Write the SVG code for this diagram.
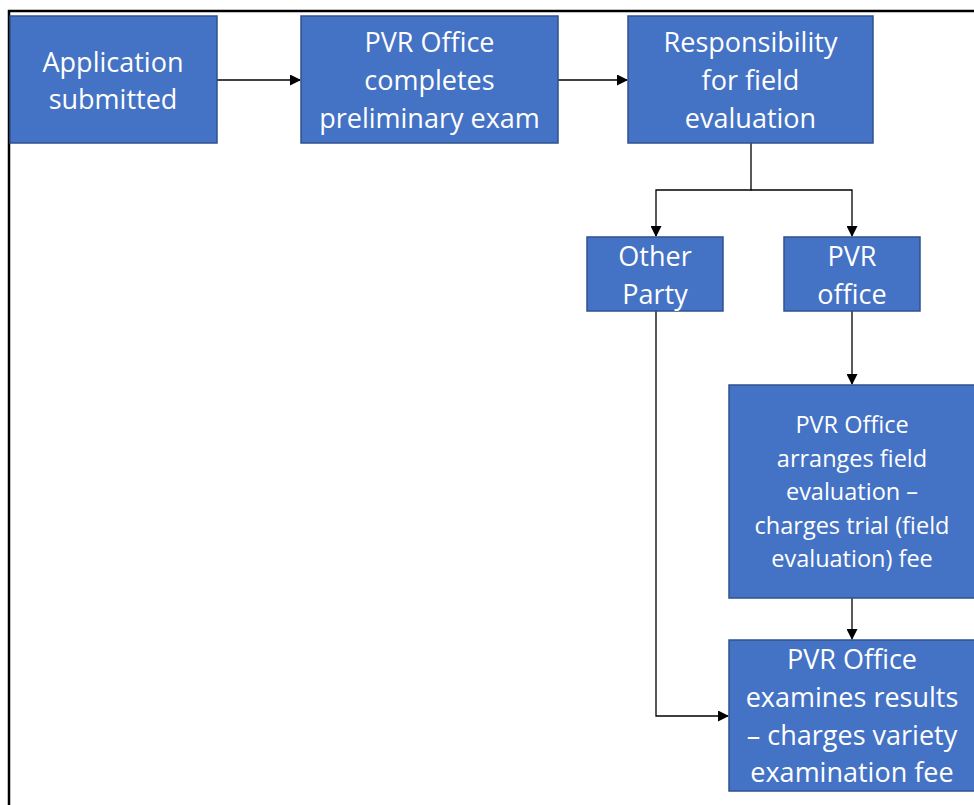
<svg xmlns="http://www.w3.org/2000/svg" width="974" height="805" viewBox="0 0 974 805">
<style>
.box{fill:#4472C4;stroke:#2F528F;stroke-width:1.5}
.t{font-family:"Open Sans","Liberation Sans",Arial,sans-serif;fill:#fff;text-anchor:middle;font-size:27px}
.s{font-size:23.5px}
.c{fill:none;stroke:#000;stroke-width:1.3}
</style>
<defs>
<marker id="ah" markerWidth="11" markerHeight="11" refX="10" refY="5.5" orient="auto" markerUnits="userSpaceOnUse">
<path d="M0,0 L11,5.5 L0,11 Z" fill="#000"/>
</marker>
</defs>
<rect width="974" height="805" fill="#fff"/>
<path d="M9,805 V11 H974" fill="none" stroke="#000" stroke-width="2.5"/>
<g id="connectors">
<path class="c" d="M217,80 H300" marker-end="url(#ah)"/>
<path class="c" d="M558,80 H627" marker-end="url(#ah)"/>
<path class="c" d="M751,143 V190 H656 V236" marker-end="url(#ah)"/>
<path class="c" d="M751,190 H852 V236" marker-end="url(#ah)"/>
<path class="c" d="M852,311 V384" marker-end="url(#ah)"/>
<path class="c" d="M852,598 V639" marker-end="url(#ah)"/>
<path class="c" d="M656,311 V716 H728" marker-end="url(#ah)"/>
</g>
<g id="n1"><rect class="box" x="10" y="16" width="207" height="127"/>
<text class="t" x="113" y="72">Application</text><text class="t" x="113" y="109">submitted</text></g>
<g id="n2"><rect class="box" x="301" y="16" width="257" height="127"/>
<text class="t" x="429.5" y="52">PVR Office</text><text class="t" x="429.5" y="90">completes</text><text class="t" x="429.5" y="128">preliminary exam</text></g>
<g id="n3"><rect class="box" x="628" y="16" width="245" height="127"/>
<text class="t" x="750.5" y="52">Responsibility</text><text class="t" x="750.5" y="90">for field</text><text class="t" x="750.5" y="128">evaluation</text></g>
<g id="n4"><rect class="box" x="587" y="237" width="136" height="74"/>
<text class="t" x="655" y="266">Other</text><text class="t" x="655" y="304">Party</text></g>
<g id="n5"><rect class="box" x="784" y="237" width="136" height="74"/>
<text class="t" x="852" y="266">PVR</text><text class="t" x="852" y="304">office</text></g>
<g id="n6"><rect class="box" x="729" y="385" width="247" height="213"/>
<text class="t s" x="852" y="433">PVR Office</text><text class="t s" x="852" y="467">arranges field</text><text class="t s" x="852" y="500">evaluation –</text><text class="t s" x="852" y="534">charges trial (field</text><text class="t s" x="852" y="567">evaluation) fee</text></g>
<g id="n7"><rect class="box" x="729" y="640" width="247" height="151"/>
<text class="t" x="852" y="669">PVR Office</text><text class="t" x="852" y="707">examines results</text><text class="t" x="852" y="745">– charges variety</text><text class="t" x="852" y="782">examination fee</text></g>
</svg>
